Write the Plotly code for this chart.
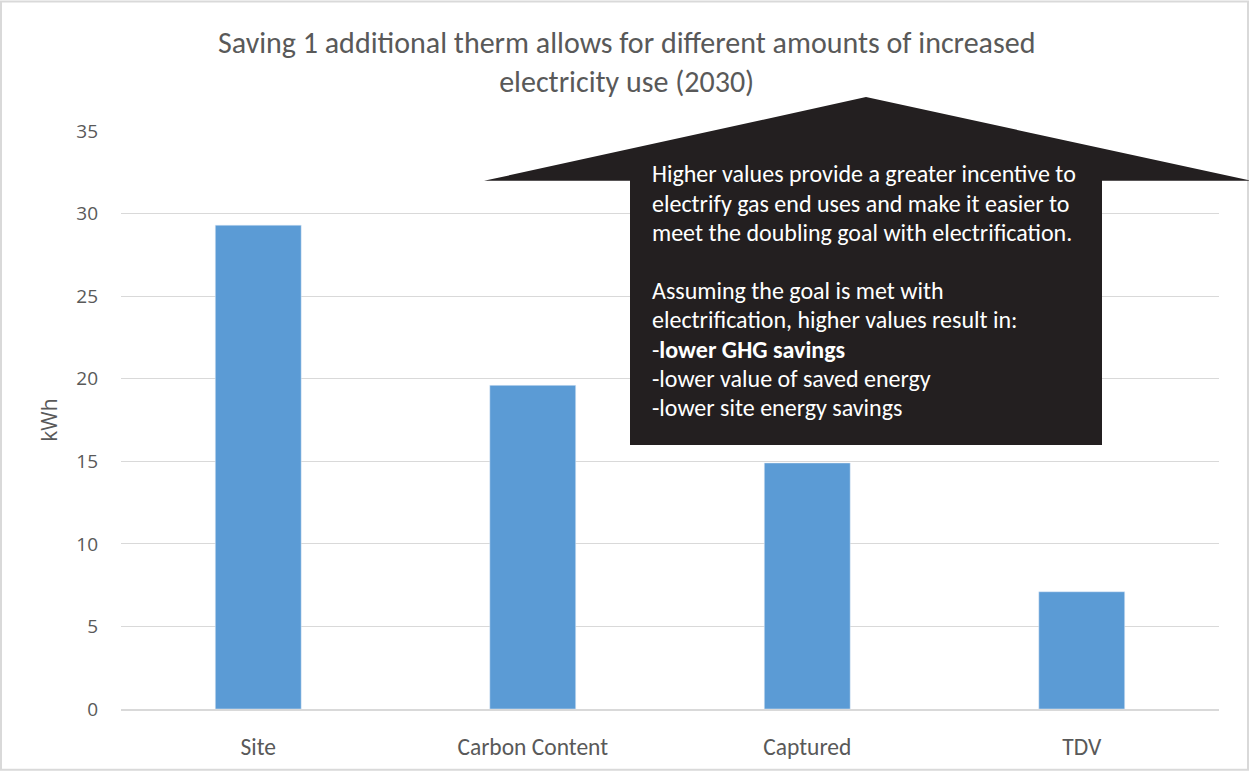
import plotly.graph_objects as go

categories = ["Site", "Carbon Content", "Captured", "TDV"]
values = [29.3, 19.6, 14.9, 7.1]
y_ticks = [0, 5, 10, 15, 20, 25, 30, 35]

title_text = ("Saving 1 additional therm allows for different amounts of increased<br>"
              "electricity use (2030)")
callout_lines = [
    "Higher values provide a greater incentive to",
    "electrify gas end uses and make it easier to",
    "meet the doubling goal with electrification.",
    "",
    "Assuming the goal is met with",
    "electrification, higher values result in:",
    "-<b>lower GHG savings</b>",
    "-lower value of saved energy",
    "-lower site energy savings",
]

W, H = 1249, 773
L, R, T, B = 121, 30, 131, 62
PW, PH = W - L - R, H - T - B

def px(x):
    return (x - L) / PW

def py(y):
    return (H - B - y) / PH

NARROW = "Carlito, Calibri, Lato, sans-serif"

fig = go.Figure(go.Bar(x=categories, y=values, marker_color="#5b9bd5",
                       width=0.313))

# callout arrow shape
path = (f"M {px(484)} {py(181)} L {px(866)} {py(97)} L {px(1252)} {py(181)} "
        f"L {px(1102)} {py(181)} L {px(1102)} {py(446)} L {px(630)} {py(446)} "
        f"L {px(630)} {py(181)} Z")
fig.add_shape(type="path", path=path, xref="paper", yref="paper",
              fillcolor="#231f20", line=dict(width=0), layer="above")

annotations = [dict(text=title_text, xref="paper", yref="paper",
                    x=px(626), y=py(62), xanchor="center", yanchor="middle", align="center",
                    showarrow=False, font=dict(family=NARROW, size=30, color="#595959"))]
for i, line in enumerate(callout_lines):
    if not line:
        continue
    annotations.append(dict(text=line, xref="paper", yref="paper",
                            x=px(650), y=py(174 + 29.3 * i), xanchor="left", yanchor="middle",
                            showarrow=False, font=dict(family=NARROW, size=24, color="#ffffff")))

fig.update_layout(
    width=W, height=H,
    margin=dict(l=L, r=R, t=T, b=B),
    paper_bgcolor="white", plot_bgcolor="white",
    showlegend=False,
    annotations=annotations,
    xaxis=dict(showgrid=False, showline=True, linecolor="#d9d9d9", linewidth=1.5,
               tickfont=dict(family=NARROW, size=23.5, color="#595959"),
               ticks="", ticklabelstandoff=16),
    yaxis=dict(range=[0, 35], tickvals=y_ticks, showgrid=True, gridcolor="#d9d9d9",
               gridwidth=1, zeroline=False, showline=False,
               tickfont=dict(family="Open Sans, sans-serif", size=19, color="#595959"),
               ticklabelstandoff=22,
               title=dict(text="kWh", standoff=12,
                          font=dict(family="Open Sans, sans-serif", size=21, color="#595959"))),
    shapes=list(fig.layout.shapes) + [dict(type="rect", xref="paper", yref="paper",
                                           x0=px(1), x1=px(W - 1), y0=py(H - 1), y1=py(1),
                                           line=dict(color="#d9d9d9", width=2), layer="below")],
)

fig.write_html("out.html")
